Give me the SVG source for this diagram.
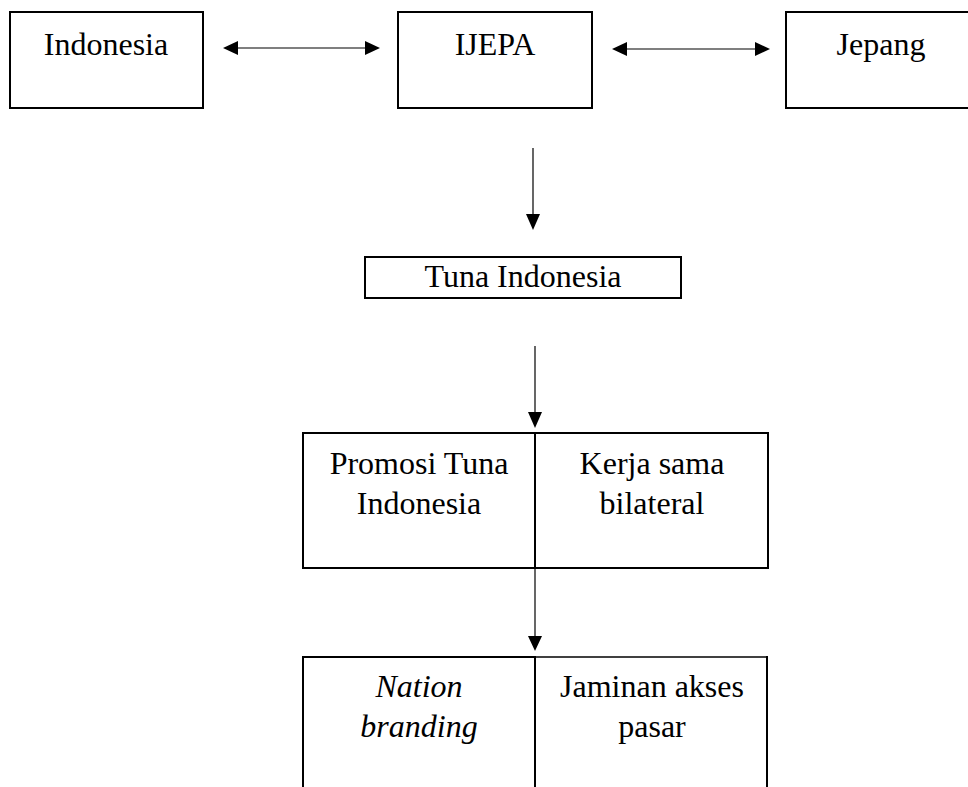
<svg xmlns="http://www.w3.org/2000/svg" width="968" height="787" viewBox="0 0 968 787">
<style>
.box{fill:#fff;stroke:#000;stroke-width:2}
.ln{stroke:#000;stroke-width:2;fill:none}
.cn{stroke:#000;stroke-width:1.2;fill:none}
.ah{fill:#000;stroke:none}
text{font-family:"Liberation Serif","Times New Roman",serif;font-size:32px;fill:#000;text-anchor:middle}
.it{font-style:italic}
</style>
<rect width="968" height="787" fill="#fff"/>
<g id="connectors">
  <line class="cn" x1="236" y1="48" x2="367" y2="48"/>
  <path class="ah" d="M223,48 L238,41 L238,55 Z"/>
  <path class="ah" d="M380,48 L365,41 L365,55 Z"/>
  <line class="cn" x1="625" y1="49" x2="757" y2="49"/>
  <path class="ah" d="M612,49 L627,42 L627,56 Z"/>
  <path class="ah" d="M770,49 L755,42 L755,56 Z"/>
  <line class="cn" x1="533" y1="148" x2="533" y2="217"/>
  <path class="ah" d="M533,230 L526,214 L540,214 Z"/>
  <line class="cn" x1="535" y1="346" x2="535" y2="415"/>
  <path class="ah" d="M535,428 L528,412 L542,412 Z"/>
  <line class="cn" x1="535" y1="568" x2="535" y2="638"/>
  <path class="ah" d="M535,651 L528,636 L542,636 Z"/>
</g>
<g id="indonesia">
  <rect class="box" x="10" y="12" width="193" height="96"/>
  <text x="106" y="55">Indonesia</text>
</g>
<g id="ijepa">
  <rect class="box" x="398" y="12" width="194" height="96"/>
  <text x="495" y="55">IJEPA</text>
</g>
<g id="jepang">
  <rect class="box" x="786" y="12" width="192" height="96"/>
  <text x="881" y="55">Jepang</text>
</g>
<g id="tuna">
  <rect class="box" x="365" y="257" width="316" height="41"/>
  <text x="523" y="287">Tuna Indonesia</text>
</g>
<g id="promosi">
  <rect class="box" x="303" y="433" width="465" height="135"/>
  <line class="ln" x1="535" y1="433" x2="535" y2="568"/>
  <text x="419" y="474">Promosi Tuna</text>
  <text x="419" y="514">Indonesia</text>
  <text x="652" y="474">Kerja sama</text>
  <text x="652" y="514">bilateral</text>
</g>
<g id="nation">
  <line class="ln" x1="303" y1="657" x2="536" y2="657"/>
  <line class="ln" x1="535" y1="657" x2="767" y2="657" style="stroke-width:1.5"/>
  <line class="ln" x1="303" y1="656" x2="303" y2="790"/>
  <line class="ln" x1="535" y1="657" x2="535" y2="790"/>
  <line class="ln" x1="767" y1="656" x2="767" y2="790"/>
  <text class="it" x="419" y="697">Nation</text>
  <text class="it" x="419" y="737">branding</text>
  <text x="652" y="697">Jaminan akses</text>
  <text x="652" y="737">pasar</text>
</g>
</svg>
